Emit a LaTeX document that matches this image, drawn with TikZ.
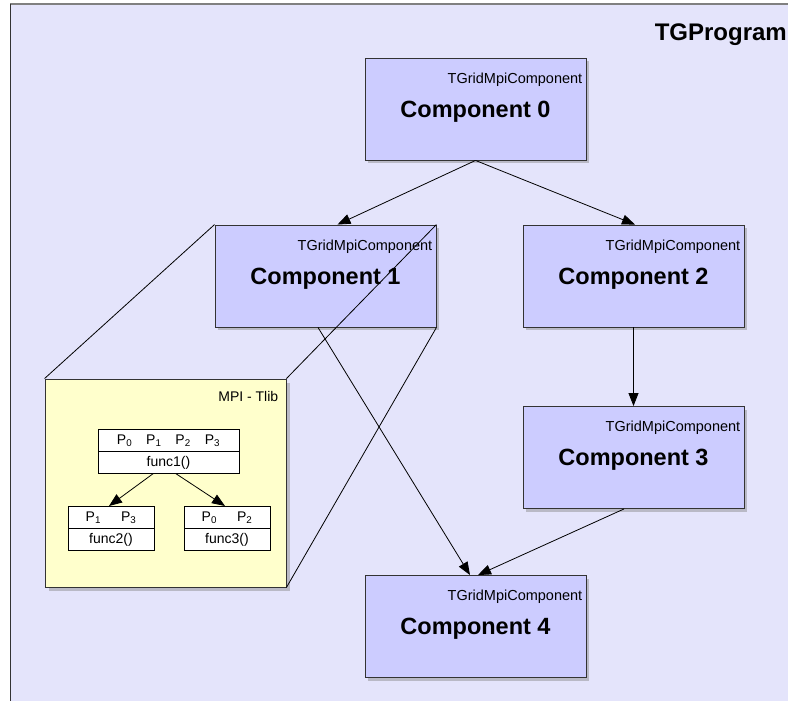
\documentclass[tikz,border=0pt]{standalone}
\usepackage{fontspec}
\setmainfont{Liberation Sans}
\usetikzlibrary{positioning,arrows.meta,shadows,shapes.multipart}
\definecolor{canvas}{HTML}{E4E4FB}
\definecolor{compfill}{HTML}{CCCCFF}
\definecolor{libfill}{HTML}{FFFFCC}
\definecolor{shadowgray}{HTML}{B9B9C6}
\definecolor{rim}{HTML}{333333}
\newcommand{\px}[1]{\fontsize{#1}{#1}\selectfont}
\newcommand{\slot}[1]{\rule[-6pt]{0pt}{21pt}#1}
\tikzset{
  comp/.style     = {rectangle, draw=rim, fill=compfill, line width=0.9pt,
                     minimum width=221pt, minimum height=102pt, text depth=0pt,
                     font=\px{23.5}\bfseries,
                     drop shadow={shadow xshift=3pt, shadow yshift=-3pt, fill=shadowgray, opacity=1},
                     label={[anchor=north east, inner sep=4pt, yshift=-11pt, font=\px{14.5}]north east:TGridMpiComponent}},
  lib/.style      = {rectangle, draw=rim, fill=libfill, line width=0.9pt,
                     minimum width=241pt, minimum height=208pt,
                     drop shadow={shadow xshift=4pt, shadow yshift=-4pt, fill=shadowgray, opacity=1}},
  func/.style     = {rectangle split, rectangle split parts=2, draw=black, fill=white,
                     line width=0.8pt, inner xsep=0pt, inner ysep=0pt, text width=#1,
                     align=center, font=\px{14}},
  call/.style     = {-{Triangle[length=13pt, width=10pt]}, line width=0.8pt},
  zoomline/.style = {line width=0.8pt},
}

\begin{document}
\begin{tikzpicture}[x=1pt, y=-1pt]
  \useasboundingbox (0,0) rectangle (788,701);
  \fill[white] (0,0) rectangle (788,701);
  \fill[canvas] (10,4) rectangle (788,701);
  \draw[gray, line width=1.2pt] (10,4) -- (788,4);
  \draw[rim, line width=1pt] (10,4) -- (10,701);
  \node[anchor=north east, inner sep=0pt, font=\px{24}\bfseries] (prog) at (787,24) {TGProgram};

  \node[comp] (c0) at (475.5,109) {Component 0};
  \node[comp] (c1) at (325.5,276) {Component 1};
  \node[comp] (c2) at (633.5,276) {Component 2};
  \node[comp] (c3) at (633.5,457.5) {Component 3};
  \node[comp] (c4) at (475.5,626.5) {Component 4};

  \node[lib, label={[anchor=north east, inner sep=0pt, xshift=-8pt, yshift=-13pt, font=\px{14}]north east:MPI - Tlib}]
    (mpi) at (165.5,483) {};
  \node[func=141pt, anchor=north] (f1) at (168.5,429)
    {\slot{P\textsubscript{0}\hspace{14pt}P\textsubscript{1}\hspace{14pt}P\textsubscript{2}\hspace{14pt}P\textsubscript{3}}\nodepart{two}\slot{func1()}};
  \node[func=86pt, anchor=north] (f2) at (111,506)
    {\slot{P\textsubscript{1}\hspace{20pt}P\textsubscript{3}}\nodepart{two}\slot{func2()}};
  \node[func=86pt, anchor=north] (f3) at (227,506)
    {\slot{P\textsubscript{0}\hspace{20pt}P\textsubscript{2}}\nodepart{two}\slot{func3()}};
  \draw[call] ([xshift=-15pt]f1.south) -- ([xshift=-2pt]f2.north);
  \draw[call] ([xshift=7pt]f1.south) -- ([xshift=-2pt]f3.north);

  \draw[zoomline] (c1.north west) -- (mpi.north west);
  \draw[zoomline] (c1.north east) -- (mpi.north east);
  \draw[zoomline] (c1.south east) -- (mpi.south east);

  \draw[call] (c0.south) -- ([xshift=12pt]c1.north);
  \draw[call] (c0.south) -- ([xshift=1.5pt]c2.north);
  \draw[call] (c2.south) -- (c3.north);
  \draw[call] ([xshift=-7.5pt]c1.south) -- ([xshift=-5.5pt]c4.north);
  \draw[call] ([xshift=-9.5pt]c3.south) -- ([xshift=2.5pt]c4.north);
\end{tikzpicture}
\end{document}
